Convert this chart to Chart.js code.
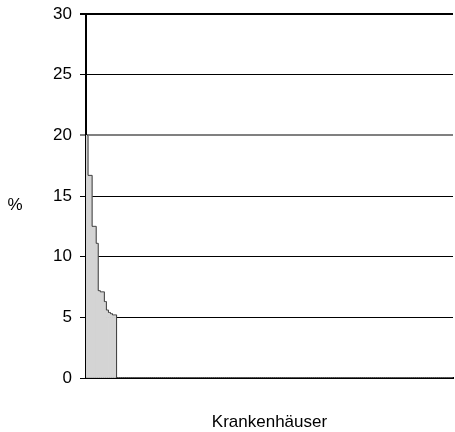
<!DOCTYPE html>
<html>
<head>
<meta charset="utf-8">
<script src="https://cdn.jsdelivr.net/npm/chart.js@4/dist/chart.umd.min.js"></script>
<style>
    html, body { margin: 0; padding: 0; background: #fff; }
    #wrap { width: 455px; height: 432px; }
</style>
</head>
<body>
<div id="wrap"><canvas id="chart" width="455" height="432"></canvas></div>
<script>
// Daten
const anzahlKrankenhaeuser = 180;
const anteile = [20.0, 16.7, 16.7, 12.5, 12.5, 11.1, 7.2, 7.1, 7.1, 6.3, 5.6, 5.4, 5.3, 5.2, 5.2];
const yTicks = [0, 5, 10, 15, 20, 25, 30];
const yTitel = '%';
const xTitel = 'Krankenhäuser';

const labels = [];
for (let i = 1; i <= anzahlKrankenhaeuser; i++) labels.push(String(i));
const balken = labels.map((l, i) => (i < anteile.length ? anteile[i] : 0));
const umriss = anteile.concat([0]);

const fontFamily = 'Arial, "Liberation Sans", sans-serif';

// "%" links, waagerecht
const yTitelPlugin = {
    id: 'yTitel',
    afterDraw(chart) {
        const ctx = chart.ctx;
        ctx.save();
        ctx.font = '17px ' + fontFamily;
        ctx.fillStyle = '#000';
        ctx.textAlign = 'center';
        ctx.textBaseline = 'middle';
        ctx.fillText(yTitel, 15, 205);
        ctx.restore();
    }
};

new Chart(document.getElementById('chart'), {
    type: 'bar',
    data: {
        labels: labels,
        datasets: [{
            type: 'line',
            data: umriss,
            stepped: 'middle',
            borderColor: '#3a3a3a',
            borderWidth: 1,
            pointRadius: 0,
            fill: false,
            order: 0
        }, {
            data: balken,
            backgroundColor: '#d4d4d4',
            borderWidth: 0,
            barPercentage: 1,
            categoryPercentage: 1,
            order: 1
        }]
    },
    options: {
        responsive: false,
        animation: false,
        layout: { padding: { top: 14, right: 2, left: 0, bottom: 0 } },
        plugins: {
            legend: { display: false },
            tooltip: { enabled: false }
        },
        scales: {
            x: {
                grid: { display: false },
                border: { display: true, color: '#000', width: 2 },
                ticks: { display: false },
                title: {
                    display: true,
                    text: xTitel,
                    color: '#000',
                    font: { family: fontFamily, size: 17, lineHeight: 1.15 },
                    padding: { top: 0, bottom: 0 }
                },
                afterFit(scale) { scale.height = 54; }
            },
            y: {
                min: 0,
                max: 30,
                afterBuildTicks(scale) { scale.ticks = yTicks.map(v => ({ value: v })); },
                ticks: {
                    color: '#000',
                    padding: 8,
                    font: { family: fontFamily, size: 17 }
                },
                grid: {
                    color: ctx => (ctx.tick && ctx.tick.value === 20 ? '#808080' : '#000'),
                    lineWidth: ctx => (ctx.tick && (ctx.tick.value === 30 || ctx.tick.value === 20) ? 2 : 1),
                    tickLength: 6,
                    drawTicks: true
                },
                border: { display: true, color: '#000', width: 2 },
                afterFit(scale) {
                    scale.width = 86;
                    scale.paddingTop = 0;
                    scale.paddingBottom = 0;
                }
            }
        }
    },
    plugins: [yTitelPlugin]
});
</script>
</body>
</html>
